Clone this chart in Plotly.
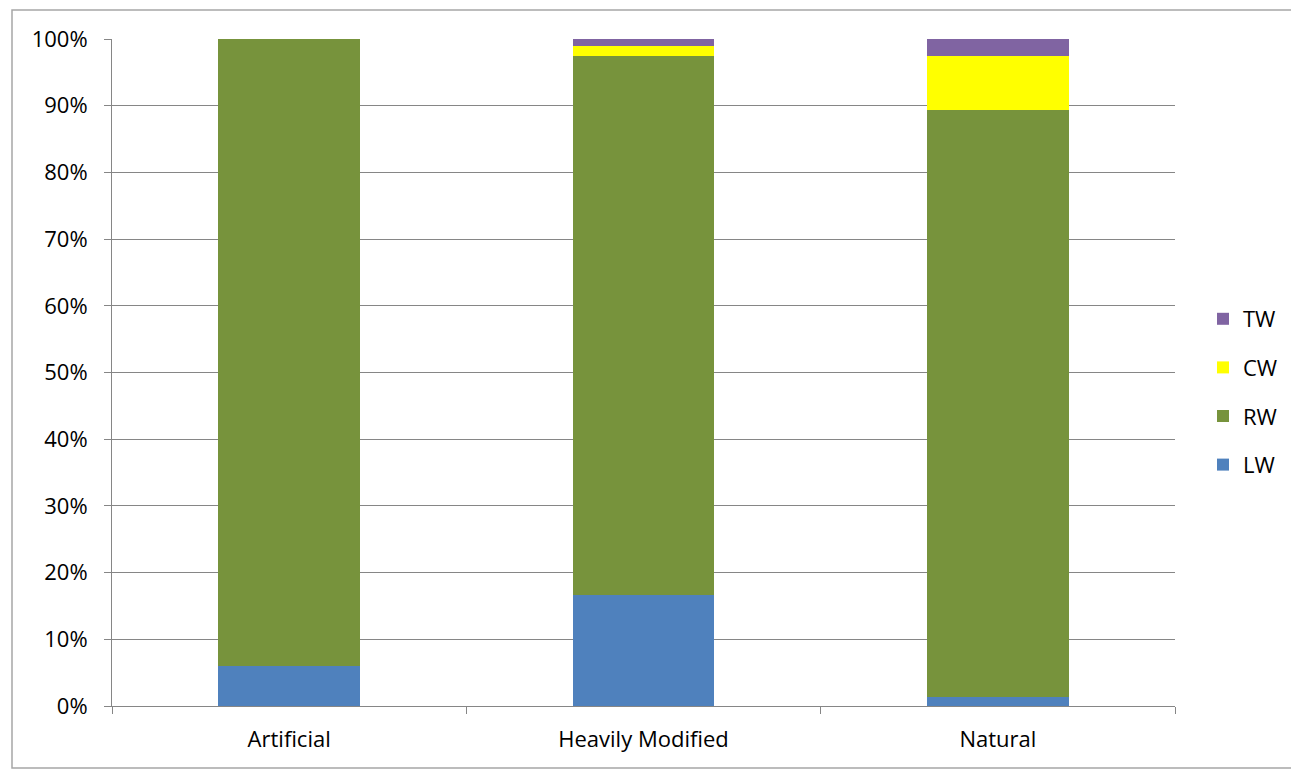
import plotly.graph_objects as go

categories = ["Artificial", "Heavily Modified", "Natural"]
lw = [6.0, 16.6, 1.4]
rw = [94.0, 80.8, 88.0]
cw = [0.0, 1.5, 8.1]
tw = [0.0, 1.1, 2.5]
y_ticks = list(range(0, 101, 10))
y_tick_labels = [f"{v}%" for v in y_ticks]

# stacking order bottom -> top, legend listed top -> bottom
series = [
    ("LW", lw, "#4F81BD", 4),
    ("RW", rw, "#77933C", 3),
    ("CW", cw, "#FFFF00", 2),
    ("TW", tw, "#8064A2", 1),
]

fig = go.Figure()
for name, vals, color, rank in series:
    fig.add_trace(go.Bar(
        x=categories, y=vals, name=name, legendgroup=name, legendrank=rank,
        marker=dict(color=color, line=dict(width=0)),
    ))

W, H = 1291, 770
L, R, T, B = 112, 116, 39, 64
pw, ph = W - L - R, H - T - B

def px(x):
    return (x - L) / pw

def py(y):
    return (H - B - y) / ph

fig.update_layout(
    width=W, height=H,
    margin=dict(l=L, r=R, t=T, b=B, autoexpand=False),
    barmode="stack", bargap=0.6,
    plot_bgcolor="white", paper_bgcolor="white",
    font=dict(family="Open Sans, sans-serif", size=22, color="#000000"),
    legend=dict(
        traceorder="grouped", tracegroupgap=17,
        x=px(1203), xanchor="left", y=py(392), yanchor="middle",
        font=dict(size=22), itemwidth=30, bgcolor="rgba(0,0,0,0)",
    ),
    xaxis=dict(
        showline=True, linecolor="#868686", linewidth=1,
        ticks="outside", tickson="boundaries", ticklen=7, tickcolor="#868686",
        showgrid=False, ticklabelstandoff=14,
    ),
    yaxis=dict(
        range=[0, 100], tickvals=y_ticks, ticktext=y_tick_labels,
        showline=True, linecolor="#868686", linewidth=1,
        ticks="outside", ticklen=7, tickcolor="#868686",
        showgrid=True, gridcolor="#868686", gridwidth=1,
        ticklabelstandoff=12, zeroline=False,
    ),
    shapes=[dict(
        type="rect", xref="paper", yref="paper",
        x0=px(12), x1=px(1310), y0=py(768), y1=py(10),
        line=dict(color="#A6A6A6", width=1.5), fillcolor="rgba(0,0,0,0)",
        layer="below",
    )],
)

fig.write_html("out.html")
